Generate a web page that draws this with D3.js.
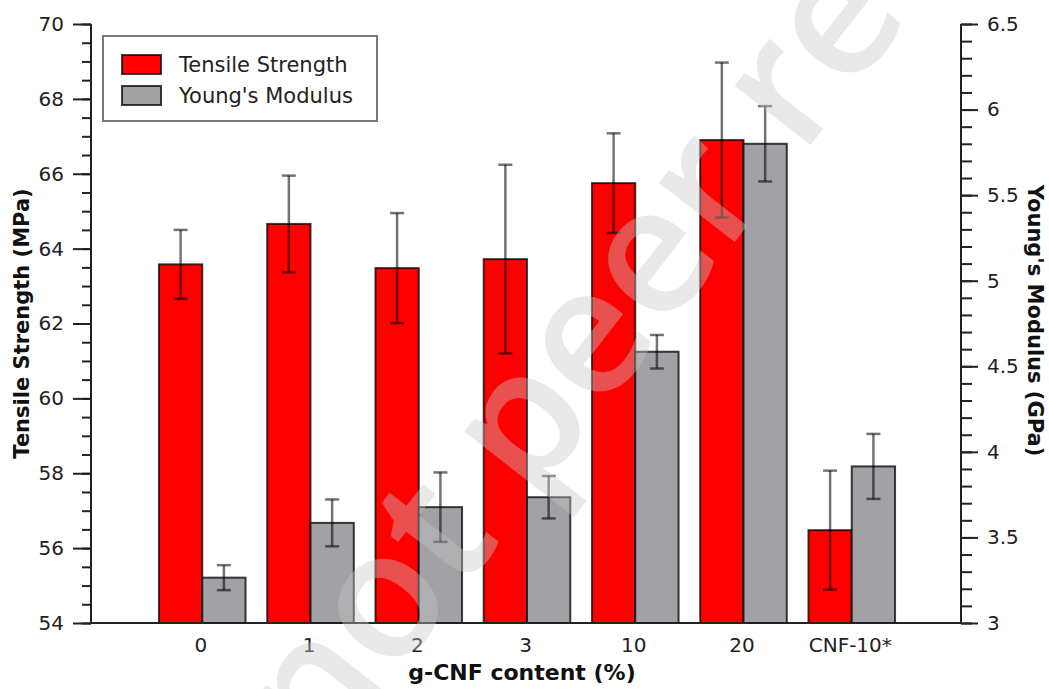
<!DOCTYPE html>
<html>
<head>
<meta charset="utf-8">
<script src="https://cdn.jsdelivr.net/npm/d3@7"></script>
<style>
  html, body { margin: 0; padding: 0; background: #fff; }
  svg { display: block; }
  .lbl { font-family: "DejaVu Sans", Verdana, sans-serif; fill: #222; }
  .ttl { font-family: "DejaVu Sans", Verdana, sans-serif; font-weight: bold; fill: #111; }
</style>
</head>
<body>
<svg id="chart" width="1049" height="689"></svg>
<script>
// Sample groups (g-CNF content)
const categories = ["0", "1", "2", "3", "10", "20", "CNF-10*"];

// Tensile strength (MPa) and its standard deviation
const tensileStrength = [63.58, 64.66, 63.48, 63.72, 65.75, 66.90, 56.48];
const tensileError    = [0.92, 1.29, 1.47, 2.52, 1.33, 2.07, 1.59];

// Young's modulus (GPa) and its standard deviation
const youngsModulus = [3.265, 3.585, 3.677, 3.735, 4.585, 5.80, 3.915];
const youngsError   = [0.073, 0.137, 0.203, 0.124, 0.098, 0.22, 0.19];

// Axis tick values
const leftMajorTicks  = [54, 56, 58, 60, 62, 64, 66, 68, 70];
const rightMajorTicks = [3, 3.5, 4, 4.5, 5, 5.5, 6, 6.5];

const seriesNames = ["Tensile Strength", "Young's Modulus"];

const svg = d3.select("#chart");
const plotL = 91, plotR = 961, plotT = 24, plotB = 623;

const x = d3.scalePoint().domain(categories).range([plotL + 3, plotR - 1]).padding(1);
const barW = x.step() * 0.4;
const yL = d3.scaleLinear().domain([54, 70]).range([plotB, plotT]);
const yR = d3.scaleLinear().domain([3, 6.5]).range([plotB, plotT]);

const red = "#ff0000", grey = "#a1a1a6";
const barStroke = "rgba(0,0,0,0.75)";
const errStroke = "rgba(0,0,0,0.55)";

// Bars
const bars = svg.append("g");
bars.selectAll("rect.ts").data(categories).join("rect")
  .attr("x", (c) => x(c) - barW)
  .attr("y", (c, i) => yL(tensileStrength[i]))
  .attr("width", barW)
  .attr("height", (c, i) => plotB - yL(tensileStrength[i]))
  .attr("fill", red).attr("stroke", barStroke).attr("stroke-width", 2);
bars.selectAll("rect.ym").data(categories).join("rect")
  .attr("x", (c) => x(c))
  .attr("y", (c, i) => yR(youngsModulus[i]))
  .attr("width", barW)
  .attr("height", (c, i) => plotB - yR(youngsModulus[i]))
  .attr("fill", grey).attr("stroke", barStroke).attr("stroke-width", 2);

// Error bars
function errorBars(cx, vals, errs, scale) {
  const g = svg.append("g").attr("stroke", errStroke).attr("stroke-width", 2.5).attr("fill", "none");
  categories.forEach((c, i) => {
    const px = cx(c);
    const y1 = scale(vals[i] + errs[i]), y2 = scale(vals[i] - errs[i]);
    g.append("line").attr("x1", px).attr("x2", px).attr("y1", y1).attr("y2", y2);
    g.append("line").attr("x1", px - 7).attr("x2", px + 7).attr("y1", y1).attr("y2", y1);
    g.append("line").attr("x1", px - 7).attr("x2", px + 7).attr("y1", y2).attr("y2", y2);
  });
}
errorBars((c) => x(c) - barW / 2, tensileStrength, tensileError, yL);
errorBars((c) => x(c) + barW / 2, youngsModulus, youngsError, yR);

// Axes
const axisColor = "#222";
function styleAxis(g) {
  g.selectAll("path.domain").remove();
  g.selectAll(".tick line").attr("stroke", axisColor).attr("stroke-width", 2);
  g.selectAll(".tick text").attr("class", "lbl").attr("font-size", 20);
}
const leftMinor = d3.range(54, 70.001, 0.5);
const rightMinor = d3.range(3, 6.5001, 0.1);

svg.append("g").attr("transform", `translate(${plotL},0)`)
  .call(d3.axisLeft(yL).tickValues(leftMinor).tickSize(9).tickFormat(""))
  .call(styleAxis);
svg.append("g").attr("transform", `translate(${plotL},0)`)
  .call(d3.axisLeft(yL).tickValues(leftMajorTicks).tickSize(18).tickPadding(9).tickFormat(d3.format("d")))
  .call(styleAxis);
svg.append("g").attr("transform", `translate(${plotR},0)`)
  .call(d3.axisRight(yR).tickValues(rightMinor).tickSize(11).tickFormat(""))
  .call(styleAxis);
svg.append("g").attr("transform", `translate(${plotR},0)`)
  .call(d3.axisRight(yR).tickValues(rightMajorTicks).tickSize(17).tickPadding(9).tickFormat(d3.format("~g")))
  .call(styleAxis);
const xAxis = svg.append("g").attr("transform", `translate(0,${plotB})`)
  .call(d3.axisBottom(x).tickSize(0).tickPadding(15))
  .call(styleAxis);
xAxis.selectAll(".tick text").attr("dx", -2);

// Axis lines
const lines = svg.append("g").attr("stroke", axisColor).attr("stroke-width", 2);
lines.append("line").attr("x1", plotL).attr("x2", plotL).attr("y1", plotT).attr("y2", plotB + 1);
lines.append("line").attr("x1", plotR).attr("x2", plotR).attr("y1", plotT).attr("y2", plotB + 1);
lines.append("line").attr("x1", plotL).attr("x2", plotR).attr("y1", plotB).attr("y2", plotB);

// Axis titles
svg.append("text").attr("class", "ttl").attr("font-size", 21)
  .attr("text-anchor", "middle")
  .attr("transform", `translate(29,${(plotT + plotB) / 2}) rotate(-90)`)
  .text("Tensile Strength (MPa)");
svg.append("text").attr("class", "ttl").attr("font-size", 21)
  .attr("text-anchor", "middle")
  .attr("transform", `translate(1028,${(plotT + plotB) / 2 - 3}) rotate(90)`)
  .text("Young's Modulus (GPa)");
svg.append("text").attr("class", "ttl").attr("font-size", 22)
  .attr("text-anchor", "middle")
  .attr("x", (plotL + plotR) / 2 - 4).attr("y", 680)
  .text("g-CNF content (%)");

// Legend
const legend = svg.append("g").attr("transform", "translate(103,36)");
legend.append("rect").attr("width", 274).attr("height", 85)
  .attr("fill", "#fff").attr("stroke", "#777").attr("stroke-width", 2);
[red, grey].forEach((col, i) => {
  legend.append("rect").attr("x", 19).attr("y", 19 + i * 31).attr("width", 39).attr("height", 19)
    .attr("fill", col).attr("stroke", barStroke).attr("stroke-width", 2);
  legend.append("text").attr("class", "lbl").attr("font-size", 21)
    .attr("x", 76).attr("y", 36 + i * 31).text(seriesNames[i]);
});

// Watermark
svg.append("text")
  .attr("font-family", "'Open Sans', sans-serif")
  .attr("font-weight", 600)
  .attr("font-size", 178)
  .attr("fill", "rgb(200,200,200)")
  .attr("fill-opacity", 0.4)
  .attr("transform", "translate(323,769) rotate(-52)")
  .text("not peer reviewed");
</script>
</body>
</html>
